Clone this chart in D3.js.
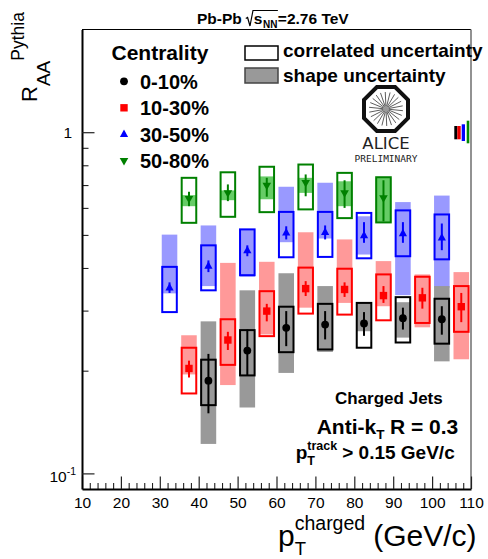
<!DOCTYPE html>
<html>
<head>
<meta charset="utf-8">
<script src="https://cdn.jsdelivr.net/npm/d3@7/dist/d3.min.js"></script>
<style>
  html, body { margin: 0; padding: 0; background: #fff; }
  svg { display: block; font-family: "Liberation Sans", Arial, Helvetica, sans-serif; }
</style>
</head>
<body>
<svg id="chart" width="488" height="559"></svg>
<script>
// ---- data: jet R_AA (vs PYTHIA reference) per centrality class ----
const centralityLabels = ["0-10%", "10-30%", "30-50%", "50-80%"];

// charged-jet pT bin positions (GeV/c), shifted per class for visibility
const pt_0_10  = [42.5, 52.5, 62.5, 72.5, 82.5, 92.5, 102.5];
const pt_10_30 = [37.5, 47.5, 57.5, 67.5, 77.5, 87.5, 97.5, 107.5];
const pt_30_50 = [32.5, 42.5, 52.5, 62.5, 72.5, 82.5, 92.5, 102.5];
const pt_50_80 = [37.5, 47.5, 57.5, 67.5, 77.5, 87.5];

// central values
const raa_0_10  = [0.187, 0.229, 0.267, 0.273, 0.275, 0.285, 0.283];
const raa_10_30 = [0.203, 0.246, 0.299, 0.348, 0.346, 0.332, 0.327, 0.308];
const raa_30_50 = [0.350, 0.405, 0.450, 0.507, 0.509, 0.498, 0.505, 0.490];
const raa_50_80 = [0.638, 0.664, 0.698, 0.711, 0.664, 0.642];

// statistical error bars [low, high]
const stat_0_10  = [[0.150, 0.224], [0.194, 0.264], [0.236, 0.299], [0.247, 0.299], [0.253, 0.297], [0.264, 0.306], [0.255, 0.309]];
const stat_10_30 = [[0.191, 0.214], [0.230, 0.260], [0.279, 0.314], [0.331, 0.366], [0.329, 0.363], [0.316, 0.354], [0.304, 0.350], [0.2775, 0.338]];
const stat_30_50 = [[0.338, 0.363], [0.389, 0.421], [0.433, 0.466], [0.485, 0.530], [0.485, 0.533], [0.474, 0.545], [0.474, 0.545], [0.451, 0.540]];
const stat_50_80 = [[0.607, 0.669], [0.628, 0.703], [0.647, 0.735], [0.649, 0.752], [0.600, 0.723], [0.548, 0.723]];

// correlated uncertainty [low, high]
const corr_0_10  = [[0.1585, 0.2154], [0.1937, 0.263], [0.2266, 0.308], [0.2308, 0.314], [0.2335, 0.316], [0.2419, 0.3285], [0.240, 0.325]];
const corr_10_30 = [[0.1715, 0.2335], [0.208, 0.283], [0.2525, 0.342], [0.294, 0.401], [0.292, 0.398], [0.281, 0.383], [0.276, 0.377], [0.260, 0.354]];
const corr_30_50 = [[0.297, 0.403], [0.344, 0.466], [0.381, 0.519], [0.430, 0.584], [0.431, 0.584], [0.427, 0.580], [0.433, 0.590], [0.424, 0.574]];
const corr_50_80 = [[0.5425, 0.735], [0.565, 0.763], [0.583, 0.792], [0.594, 0.804], [0.560, 0.760], [0.544, 0.738]];

// shape uncertainty [low, high]
const shape_0_10  = [[0.122, 0.279], [0.156, 0.344], [0.197, 0.386], [0.227, 0.354], [0.261, 0.316], [0.250, 0.3175], [0.213, 0.354]];
const shape_10_30 = [[0.195, 0.254], [0.1815, 0.414], [0.2554, 0.417], [0.306, 0.509], [0.316, 0.485], [0.309, 0.419], [0.268, 0.383], [0.216, 0.389]];
const shape_30_50 = [[0.337, 0.501], [0.354, 0.533], [0.377, 0.519], [0.476, 0.692], [0.488, 0.711], [0.438, 0.567], [0.333, 0.624], [0.350, 0.652]];
const shape_50_80 = [[0.607, 0.654], [0.632, 0.675], [0.636, 0.742], [0.664, 0.735], [0.607, 0.718], [0.546, 0.736]];

// axis ticks
const xMajorTicks = [10, 20, 30, 40, 50, 60, 70, 80, 90, 100, 110];
const yMajorTicks = [0.1, 1];
const yMinorTicks = [0.2, 0.3, 0.4, 0.5, 0.6, 0.7, 0.8, 0.9];

// ---- styles ----
const lineColors  = ["#000000", "#ff0000", "#0000ff", "#008000"];
const shapeColors = ["#999999", "#ff9999", "#9999ff", "#66cc66"];
const markerTypes = ["circle", "square", "triangleUp", "triangleDown"];

const series = [
  { pt: pt_0_10,  raa: raa_0_10,  stat: stat_0_10,  corr: corr_0_10,  shape: shape_0_10 },
  { pt: pt_10_30, raa: raa_10_30, stat: stat_10_30, corr: corr_10_30, shape: shape_10_30 },
  { pt: pt_30_50, raa: raa_30_50, stat: stat_30_50, corr: corr_30_50, shape: shape_30_50 },
  { pt: pt_50_80, raa: raa_50_80, stat: stat_50_80, corr: corr_50_80, shape: shape_50_80 }
].map((s, i) => Object.assign(s, {
  label: centralityLabels[i], line: lineColors[i], fill: shapeColors[i], marker: markerTypes[i]
}));

const svg = d3.select("#chart");
const frame = { left: 82, right: 471, top: 29.5, bottom: 489 };

const x = d3.scaleLinear().domain([10, 110]).range([frame.left, frame.right]);
const y = d3.scaleLog().domain([0.09, 2]).range([frame.bottom, frame.top]);

// ---- marker drawing ----
function drawMarker(sel, type, color) {
  if (type === "circle") {
    sel.append("circle").attr("r", 3.9).attr("fill", color);
  } else if (type === "square") {
    sel.append("rect").attr("x", -3.7).attr("y", -3.7).attr("width", 7.4).attr("height", 7.4).attr("fill", color);
  } else if (type === "triangleUp") {
    sel.append("path").attr("d", "M0,-4.8L4.1,2.7L-4.1,2.7Z").attr("fill", color);
  } else {
    sel.append("path").attr("d", "M0,4.8L4.3,-2.7L-4.3,-2.7Z").attr("fill", color);
  }
}

// ---- frame (top / right edges) ----
svg.append("line").attr("x1", frame.left).attr("x2", frame.right)
  .attr("y1", frame.top).attr("y2", frame.top).attr("stroke", "#000").attr("stroke-width", 1);
svg.append("line").attr("x1", frame.right).attr("x2", frame.right)
  .attr("y1", frame.top).attr("y2", frame.bottom).attr("stroke", "#777").attr("stroke-width", 1.6);

// ---- data layers ----
const halfW = 2; // box half-width in GeV/c
const plot = svg.append("g");
[3, 2, 1, 0].forEach(i => {
  const s = series[i];
  const rows = s.pt.map((p, j) => ({ p, v: s.raa[j], st: s.stat[j], co: s.corr[j], sh: s.shape[j] }));
  const g = plot.append("g");

  g.selectAll("rect.shape").data(rows).join("rect")
    .attr("class", "shape")
    .attr("x", d => x(d.p - halfW))
    .attr("width", d => x(d.p + halfW) - x(d.p - halfW))
    .attr("y", d => y(d.sh[1]))
    .attr("height", d => y(d.sh[0]) - y(d.sh[1]))
    .attr("fill", s.fill);

  g.selectAll("rect.corr").data(rows).join("rect")
    .attr("class", "corr")
    .attr("x", d => x(d.p - halfW) + 0.5)
    .attr("width", d => x(d.p + halfW) - x(d.p - halfW) - 1)
    .attr("y", d => y(d.co[1]))
    .attr("height", d => y(d.co[0]) - y(d.co[1]))
    .attr("fill", "none")
    .attr("stroke", s.line)
    .attr("stroke-width", 2);

  g.selectAll("line.stat").data(rows).join("line")
    .attr("class", "stat")
    .attr("x1", d => x(d.p)).attr("x2", d => x(d.p))
    .attr("y1", d => y(d.st[0])).attr("y2", d => y(d.st[1]))
    .attr("stroke", s.line).attr("stroke-width", 2);

  g.selectAll("g.pt").data(rows).join("g")
    .attr("class", "pt")
    .attr("transform", d => `translate(${x(d.p)},${y(d.v)})`)
    .each(function () { drawMarker(d3.select(this), s.marker, s.line); });
});

// ---- axes ----
const xMinorTicks = d3.range(12, 110, 2).filter(v => v % 10 !== 0);

const xAxisMinor = svg.append("g").attr("transform", `translate(0,${frame.bottom})`)
  .call(d3.axisBottom(x).tickValues(xMinorTicks).tickSizeInner(-6).tickSizeOuter(0).tickFormat(""));
xAxisMinor.select(".domain").remove();
xAxisMinor.selectAll("line").attr("stroke", "#222").attr("stroke-width", 1.1);

const xAxis = svg.append("g").attr("transform", `translate(0,${frame.bottom})`)
  .call(d3.axisBottom(x).tickValues(xMajorTicks).tickSizeInner(-12.5).tickSizeOuter(0).tickPadding(8)
    .tickFormat(d3.format("d")));
xAxis.attr("font-family", null).attr("font-size", null);
xAxis.select(".domain").attr("stroke", "#000").attr("stroke-width", 2);
xAxis.selectAll(".tick line").attr("stroke", "#222").attr("stroke-width", 1.2);
xAxis.selectAll(".tick text").attr("font-size", 15.5).attr("fill", "#000");

const yAxisMinor = svg.append("g").attr("transform", `translate(${frame.left},0)`)
  .call(d3.axisLeft(y).tickValues(yMinorTicks).tickSizeInner(-6.5).tickSizeOuter(0).tickFormat(""));
yAxisMinor.select(".domain").remove();
yAxisMinor.selectAll("line").attr("stroke", "#222").attr("stroke-width", 1.1);

const yAxis = svg.append("g").attr("transform", `translate(${frame.left},0)`)
  .call(d3.axisLeft(y).tickValues(yMajorTicks).tickSizeInner(-12.5).tickSizeOuter(0).tickPadding(10)
    .tickFormat(d => d === 1 ? "1" : ""));
yAxis.attr("font-family", null).attr("font-size", null);
yAxis.select(".domain").attr("stroke", "#000").attr("stroke-width", 2);
yAxis.selectAll(".tick line").attr("stroke", "#222").attr("stroke-width", 1.2);
yAxis.selectAll(".tick text").attr("font-size", 15.5).attr("fill", "#000");
yAxis.selectAll(".tick").filter(d => d === 0.1).select("text")
  .attr("x", -6).attr("dy", "0.55em")
  .call(t => {
    t.append("tspan").text("10");
    t.append("tspan").attr("font-size", 10.5).attr("dy", "-0.75em").text("-1");
  });

// ---- rich text helper: lays out pieces left to right (sub/sup can stack) ----
function placeRich(parent, px, py, parts, anchor = "start", rotate = 0) {
  const g = parent.append("g");
  let cursor = 0, lastStart = 0, lastEnd = 0;
  parts.forEach(p => {
    if (p.space) { cursor += p.space; lastEnd = cursor; return; }
    const start = p.stack ? lastStart : cursor;
    const t = g.append("text")
      .attr("x", start).attr("y", p.dy || 0)
      .attr("font-size", p.size)
      .attr("font-weight", p.weight || "normal")
      .attr("fill", p.fill || "#000")
      .text(p.t);
    const w = t.node().getComputedTextLength();
    if (p.stack) lastEnd = Math.max(lastEnd, start + w);
    else { lastStart = start; lastEnd = start + w; }
    cursor = lastEnd;
  });
  const off = anchor === "end" ? -cursor : anchor === "middle" ? -cursor / 2 : 0;
  g.attr("transform", `translate(${px},${py}) rotate(${rotate}) translate(${off},0)`);
  return g;
}

// ---- title ----
(function () {
  const g = svg.append("g").attr("transform", "translate(197,24)");
  const fs = 15.5;
  const t1 = g.append("text").attr("font-size", fs).attr("font-weight", "bold").text("Pb-Pb");
  const r0 = t1.node().getComputedTextLength() + 4;
  const ts = g.append("text").attr("x", r0 + 8).attr("font-size", fs).attr("font-weight", "bold").text("s");
  const sx = r0 + 8 + ts.node().getComputedTextLength() + 0.5;
  const tn = g.append("text").attr("x", sx).attr("y", 4).attr("font-size", 10).attr("font-weight", "bold").text("NN");
  const e = sx + tn.node().getComputedTextLength() + 0.5;
  g.append("path")
    .attr("d", `M${r0},-5.5L${r0 + 1.8},-6.5L${r0 + 4.2},2L${r0 + 7.2},-13.5H${e}`)
    .attr("fill", "none").attr("stroke", "#000").attr("stroke-width", 1.2);
  g.append("text").attr("x", e).attr("font-size", fs).attr("font-weight", "bold").text("=2.76 TeV");
})();

// ---- axis titles ----
placeRich(svg, 278, 546, [
  { t: "p", size: 30 },
  { t: "T", size: 18.5, dy: 8.5 },
  { t: "charged", size: 19.5, dy: -16, stack: true },
  { space: 8 },
  { t: "(GeV/c)", size: 30 }
]);

placeRich(svg, 37, 102, [
  { t: "R", size: 22 },
  { t: "AA", size: 19, dy: 13 },
  { t: "Pythia", size: 17.5, dy: -13.5 }
], "start", -90);

// ---- centrality legend ----
svg.append("text").attr("x", 111.5).attr("y", 60).attr("font-size", 21).attr("font-weight", "bold").text("Centrality");
const legendRowsY = [88.5, 115, 141.5, 168];
series.forEach((s, i) => {
  const mg = svg.append("g").attr("transform", `translate(124,${legendRowsY[i] - 7.2})`);
  drawMarker(mg, s.marker, s.line);
  svg.append("text").attr("x", 140).attr("y", legendRowsY[i])
    .attr("font-size", 20).attr("font-weight", "bold").text(s.label);
});

// ---- uncertainty legend ----
svg.append("rect").attr("x", 245).attr("y", 46).attr("width", 33).attr("height", 14)
  .attr("fill", "#fff").attr("stroke", "#000").attr("stroke-width", 1.5);
svg.append("rect").attr("x", 245).attr("y", 68).attr("width", 33).attr("height", 15)
  .attr("fill", "#999").attr("stroke", "#444").attr("stroke-width", 1.5);
svg.append("text").attr("x", 283).attr("y", 56.7).attr("font-size", 19).attr("font-weight", "bold").text("correlated uncertainty");
svg.append("text").attr("x", 283).attr("y", 81.7).attr("font-size", 19).attr("font-weight", "bold").text("shape uncertainty");

// ---- ALICE logo ----
(function () {
  const cx = 386, cy = 109;
  const g = svg.append("g").attr("transform", `translate(${cx},${cy})`);
  const R = 22 / Math.cos(Math.PI / 8);
  const pts = d3.range(8).map(k => {
    const a = Math.PI / 8 + k * Math.PI / 4;
    return [R * Math.cos(a), R * Math.sin(a)];
  });
  g.append("path").attr("d", "M" + pts.map(p => p.join(",")).join("L") + "Z")
    .attr("fill", "#fff").attr("stroke", "#111").attr("stroke-width", 4);
  d3.range(22).forEach(k => {
    const a = k * 2 * Math.PI / 22 + 0.1;
    g.append("line")
      .attr("x1", 2.5 * Math.cos(a)).attr("y1", 2.5 * Math.sin(a))
      .attr("x2", 17 * Math.cos(a)).attr("y2", 17 * Math.sin(a))
      .attr("stroke", "#333").attr("stroke-width", 0.8);
  });
  g.append("circle").attr("r", 2.5).attr("fill", "#999");
  svg.append("text").attr("x", cx).attr("y", 149).attr("text-anchor", "middle")
    .attr("font-family", "DejaVu Sans").attr("font-size", 16.5).attr("fill", "#222").text("ALICE");
  svg.append("text").attr("x", cx).attr("y", 162).attr("text-anchor", "middle")
    .attr("font-family", "DejaVu Sans Mono").attr("font-size", 9.5).attr("fill", "#222").text("PRELIMINARY");
})();

// small colour key next to the logo
[
  { x0: 454.3, x1: 457.3, y0: 126, y1: 139.3, c: "#000" },
  { x0: 457.3, x1: 460.7, y0: 126, y1: 139.3, c: "#e00" },
  { x0: 461.7, x1: 465, y0: 124.3, y1: 141, c: "#00f" },
  { x0: 466.7, x1: 469.3, y0: 120.7, y1: 143.3, c: "#080" }
].forEach(b => svg.append("rect").attr("x", b.x0).attr("y", b.y0)
  .attr("width", b.x1 - b.x0).attr("height", b.y1 - b.y0).attr("fill", b.c));

// ---- annotations ----
svg.append("text").attr("x", 335).attr("y", 404).attr("font-size", 17).attr("font-weight", "bold").text("Charged Jets");
placeRich(svg, 316.7, 434, [
  { t: "Anti-k", size: 21, weight: "bold" },
  { t: "T", size: 13.5, weight: "bold", dy: 5 },
  { space: 5.5 },
  { t: "R = 0.3", size: 21, weight: "bold" }
]);
placeRich(svg, 295.7, 459, [
  { t: "p", size: 19, weight: "bold" },
  { t: "T", size: 12.5, weight: "bold", dy: 6 },
  { t: "track", size: 12.5, weight: "bold", dy: -9, stack: true },
  { space: 5 },
  { t: "> 0.15 GeV/c", size: 19, weight: "bold" }
]);
</script>
</body>
</html>
